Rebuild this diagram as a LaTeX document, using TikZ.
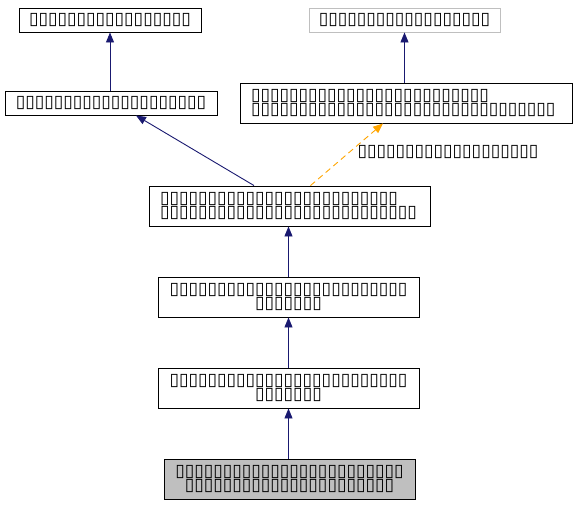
\documentclass[tikz,border=0pt]{standalone}
\usepackage{fontspec}
\setmainfont{DejaVu Sans}
\usetikzlibrary{arrows.meta,calc}
\definecolor{edgeblue}{HTML}{191970}
\definecolor{edgeorange}{HTML}{FFA500}
\definecolor{boxgray}{HTML}{BFBFBF}
\tikzset{
  cls/.style={draw=black, line width=0.9pt, minimum height=24pt, inner sep=0pt,
    font=\fontsize{17.3}{14.2}\selectfont, align=center},
  cls2/.style={cls, minimum height=40pt},
  inh/.style={draw=edgeblue, line width=0.9pt, -{Triangle[length=10pt,width=8pt]}},
  tmpl/.style={draw=edgeorange, line width=0.9pt, dash pattern=on 6pt off 4pt, -{Triangle[length=10pt,width=8pt]}},
  lbl/.style={inner sep=0pt, font=\fontsize{17.3}{14.2}\selectfont}
}
\begin{document}
\begin{tikzpicture}[x=1pt,y=-1pt]
\useasboundingbox (0,0) rectangle (576,504);
\node[cls, minimum width=182pt] (A) at (110,20) {▯▯▯▯▯▯▯▯▯▯▯▯▯▯▯▯▯};
\node[cls, draw=boxgray, minimum width=191pt] (B) at (404.5,20) {▯▯▯▯▯▯▯▯▯▯▯▯▯▯▯▯▯▯};
\node[cls, minimum width=212pt] (C) at (111,103) {▯▯▯▯▯▯▯▯▯▯▯▯▯▯▯▯▯▯▯▯};
\node[cls2, minimum width=332pt, text width=310pt, align=left] (D) at (406,103) {▯▯▯▯▯▯▯▯▯▯▯▯▯▯▯▯▯▯▯▯▯▯▯▯▯\\▯▯▯▯▯▯▯▯▯▯▯▯▯▯▯▯▯▯▯▯▯▯▯▯▯▯▯▯▯▯▯▯};
\node[cls2, minimum width=281pt, text width=259pt, align=left] (E) at (289.5,206) {▯▯▯▯▯▯▯▯▯▯▯▯▯▯▯▯▯▯▯▯▯▯▯▯▯\\▯▯▯▯▯▯▯▯▯▯▯▯▯▯▯▯▯▯▯▯▯▯▯▯▯▯▯};
\node[cls2, minimum width=261pt] (F) at (288.5,297) {▯▯▯▯▯▯▯▯▯▯▯▯▯▯▯▯▯▯▯▯▯▯▯▯▯\\▯▯▯▯▯▯▯};
\node[cls2, minimum width=261pt] (G) at (288.5,388) {▯▯▯▯▯▯▯▯▯▯▯▯▯▯▯▯▯▯▯▯▯▯▯▯▯\\▯▯▯▯▯▯▯};
\node[cls2, fill=boxgray, minimum width=251pt] (H) at (289.5,479) {▯▯▯▯▯▯▯▯▯▯▯▯▯▯▯▯▯▯▯▯▯▯▯▯\\▯▯▯▯▯▯▯▯▯▯▯▯▯▯▯▯▯▯▯▯▯▯};
\node[lbl] (L) at (448,152) {▯▯▯▯▯▯▯▯▯▯▯▯▯▯▯▯▯▯▯};
\coordinate (Ce) at ($(C.south)+(25,0)$);
\coordinate (Ec) at ($(E.north)+(-35.5,0)$);
\coordinate (De) at ($(D.south)+(-23,0)$);
\coordinate (Ed) at ($(E.north)+(21,0)$);
\draw[inh] (C.north -| A.south) -- (A.south);
\draw[inh] (D.north -| B.south) -- (B.south);
\draw[inh] (Ec) -- (Ce);
\draw[tmpl] (Ed) -- (De);
\draw[inh] (F.north) -- (E.south -| F.north);
\draw[inh] (G.north) -- (F.south);
\draw[inh] (H.north -| G.north) -- (G.south);
\end{tikzpicture}
\end{document}
